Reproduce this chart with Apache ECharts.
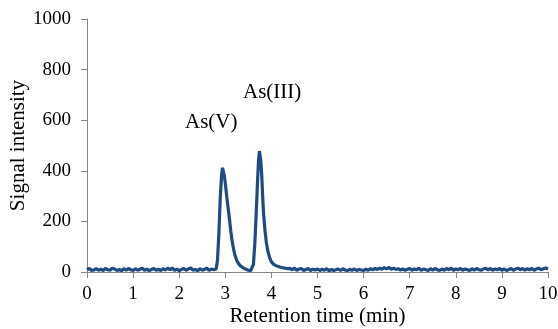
<!DOCTYPE html>
<html>
<head>
<meta charset="utf-8">
<script src="https://cdn.jsdelivr.net/npm/echarts@6/dist/echarts.min.js"></script>
<style>
html,body{margin:0;padding:0;background:#fff;}
#chart{width:558px;height:329px;}
</style>
</head>
<body>
<div id="chart"></div>
<script>
// Retention time (min)
const times = [
  0.00,0.05,0.10,0.15,0.20,0.25,0.30,0.35,0.40,0.45,0.50,0.55,0.60,0.65,0.70,0.75,0.80,0.85,0.90,0.95,
  1.00,1.05,1.10,1.15,1.20,1.25,1.30,1.35,1.40,1.45,1.50,1.55,1.60,1.65,1.70,1.75,1.80,1.85,1.90,1.95,
  2.00,2.05,2.10,2.15,2.20,2.25,2.30,2.35,2.40,2.45,2.50,2.55,2.60,2.65,2.70,2.75,
  2.80,2.83,2.86,2.89,2.92,2.94,2.96,2.98,3.00,3.03,3.06,3.09,3.12,3.15,3.18,3.21,3.25,3.29,3.33,3.37,3.41,3.45,3.50,3.55,3.58,
  3.61,3.64,3.67,3.70,3.72,3.74,3.755,3.77,3.79,3.81,3.83,3.86,3.89,3.92,3.96,4.00,4.05,4.10,4.15,4.20,4.25,4.30,4.35,
  4.40,4.45,4.50,4.55,4.60,4.65,4.70,4.75,4.80,4.85,4.90,4.95,
  5.00,5.05,5.10,5.15,5.20,5.25,5.30,5.35,5.40,5.45,5.50,5.55,5.60,5.65,5.70,5.75,5.80,5.85,5.90,5.95,
  6.00,6.05,6.10,6.15,6.20,6.25,6.30,6.35,6.40,6.45,6.50,6.55,6.60,6.65,6.70,6.75,6.80,6.85,6.90,6.95,
  7.00,7.05,7.10,7.15,7.20,7.25,7.30,7.35,7.40,7.45,7.50,7.55,7.60,7.65,7.70,7.75,7.80,7.85,7.90,7.95,
  8.00,8.05,8.10,8.15,8.20,8.25,8.30,8.35,8.40,8.45,8.50,8.55,8.60,8.65,8.70,8.75,8.80,8.85,8.90,8.95,
  9.00,9.05,9.10,9.15,9.20,9.25,9.30,9.35,9.40,9.45,9.50,9.55,9.60,9.65,9.70,9.75,9.80,9.85,9.90,9.95,
  10.00
];
// Signal intensity
const signal = [
  9,14,6,8,13,7,11,6,14,9,7,15,12,6,10,5,13,7,14,9,
  6,13,7,11,15,6,12,5,10,14,7,11,6,13,8,15,9,16,6,12,
  5,10,14,7,12,16,7,10,5,13,7,11,15,6,12,9,
  12,45,150,290,385,412,405,380,350,300,255,210,160,120,90,66,45,32,24,18,14,10,7,5,8,
  30,110,230,360,440,478,483,440,385,300,232,165,118,85,58,40,30,25,22,19,17,15,13,
  14,9,15,7,12,14,6,10,14,6,11,8,
  12,6,11,7,13,5,10,6,9,12,6,13,8,5,11,7,12,6,10,8,
  6,11,7,13,9,14,10,15,11,17,12,18,11,15,10,13,8,12,7,11,
  14,7,12,9,15,6,12,9,6,13,7,14,9,6,12,7,14,9,15,7,
  12,9,14,7,12,9,6,13,7,14,9,7,12,15,8,14,7,12,9,14,
  7,12,6,10,14,7,12,15,9,14,7,13,9,14,7,12,15,9,13,16,
  12
];
const xTicks = [0,1,2,3,4,5,6,7,8,9,10];
const yTicks = [0,200,400,600,800,1000];
const peakLabels = ['As(V)', 'As(III)'];

const seriesData = times.map((t, i) => [t, signal[i]]);
const serif = 'Liberation Serif';
const axisGray = '#868686';

const chart = echarts.init(document.getElementById('chart'), null, {renderer: 'canvas'});
chart.setOption({
  animation: false,
  backgroundColor: '#ffffff',
  textStyle: {fontFamily: serif},
  grid: {left: 87, right: 10, top: 19, bottom: 57, containLabel: false, outerBoundsMode: 'none'},
  xAxis: {
    type: 'value',
    min: xTicks[0], max: xTicks[xTicks.length - 1], interval: 1,
    name: 'Retention time (min)',
    nameLocation: 'middle', nameGap: 34, nameMoveOverlap: false,
    nameTextStyle: {fontFamily: serif, fontSize: 21, color: '#000'},
    axisLine: {show: true, lineStyle: {color: axisGray, width: 1}},
    axisTick: {show: true, inside: false, length: 6, lineStyle: {color: axisGray}},
    axisLabel: {fontFamily: serif, fontSize: 19, color: '#000', margin: 13,
      formatter: v => String(v)},
    splitLine: {show: false}
  },
  yAxis: {
    type: 'value',
    min: yTicks[0], max: yTicks[yTicks.length - 1], interval: 200,
    name: 'Signal intensity',
    nameLocation: 'middle', nameGap: 58, nameRotate: 90, nameMoveOverlap: false,
    nameTextStyle: {fontFamily: serif, fontSize: 21, color: '#000'},
    axisLine: {show: true, lineStyle: {color: axisGray, width: 1}},
    axisTick: {show: true, inside: false, length: 6, lineStyle: {color: axisGray}},
    axisLabel: {fontFamily: serif, fontSize: 19, color: '#000', margin: 16,
      formatter: v => String(v)},
    splitLine: {show: false}
  },
  series: [{
    type: 'line',
    data: seriesData,
    showSymbol: false,
    symbol: 'none',
    smooth: false,
    lineStyle: {color: '#1F4B82', width: 3.2},
    z: 3
  }],
  graphic: [
    {type: 'text', left: 185, top: 112, style: {text: peakLabels[0], font: '21px ' + serif, fill: '#000'}},
    {type: 'text', left: 243, top: 82, style: {text: peakLabels[1], font: '21px ' + serif, fill: '#000'}}
  ]
});
</script>
</body>
</html>
